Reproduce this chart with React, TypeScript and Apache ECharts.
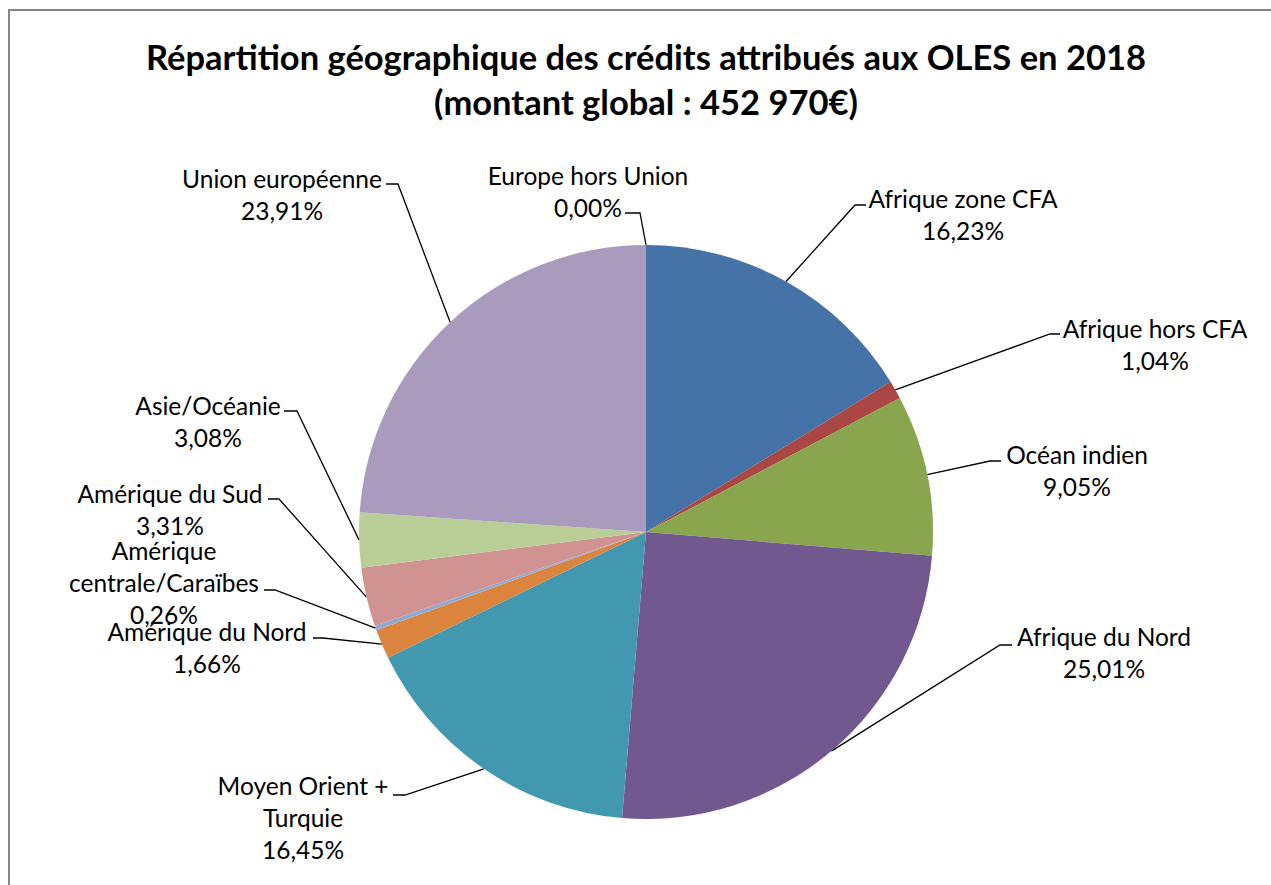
import React, { useEffect, useRef } from 'react';
import * as echarts from 'echarts';

const titleLines = [
  'Répartition géographique des crédits attribués aux OLES en 2018',
  '(montant global : 452 970€)',
];

const categories = [
  'Afrique zone CFA',
  'Afrique hors CFA',
  'Océan indien',
  'Afrique du Nord',
  'Moyen Orient + Turquie',
  'Amérique du Nord',
  'Amérique centrale/Caraïbes',
  'Amérique du Sud',
  'Asie/Océanie',
  'Union européenne',
  'Europe hors Union',
];

const shares = [16.23, 1.04, 9.05, 25.01, 16.45, 1.66, 0.26, 3.31, 3.08, 23.91, 0.0];

const labelTexts = [
  'Afrique zone CFA',
  'Afrique hors CFA',
  'Océan indien',
  'Afrique du Nord',
  'Moyen Orient +\nTurquie',
  'Amérique du Nord',
  'Amérique\ncentrale/Caraïbes',
  'Amérique du Sud',
  'Asie/Océanie',
  'Union européenne',
  'Europe hors Union',
];

const colors = [
  '#4572A7', '#AA4643', '#89A54E', '#71588F', '#4198AF', '#DB843D',
  '#93A9CF', '#D19392', '#B9CD96', '#A99BBD', '#3D6A9E',
];

// Layout of the data labels (text block centre) and leader-line attachment
const labelCenters: number[][] = [
  [963, 214], [1155, 344], [1077, 470], [1104, 652], [303, 817], [207, 647],
  [164, 582], [170, 509], [208, 421], [282, 194], [588, 191],
];
// [x, y, elbow offset]
const leaderAnchors: number[][] = [
  [866, 205, -11], [1060, 334, -10], [1001, 461, -11], [1012, 645, -12],
  [393, 795, 12], [313, 638, 10], [264, 590, 11], [268, 499, 11],
  [284, 411, 13], [386, 184, 12], [625, 213, 15],
];

const CX = 646;
const CY = 532;
const R = 287;
const FONT = 'Lato, "Open Sans", sans-serif';

function fmtPct(v: number) {
  return v.toFixed(2).replace('.', ',') + '%';
}

export default function App() {
  const ref = useRef<HTMLDivElement>(null);

  useEffect(() => {
    if (!ref.current) return;
    const chart = echarts.init(ref.current, null, { renderer: 'svg' });
    const total = shares.reduce((a, b) => a + b, 0);
    const cum: number[] = [];
    shares.reduce((acc, v, i) => {
      cum[i] = acc;
      return acc + v;
    }, 0);

    chart.setOption({
      animation: false,
      backgroundColor: '#ffffff',
      title: {
        text: titleLines.join('\n'),
        left: 646,
        top: 34,
        padding: 0,
        textAlign: 'center',
        textStyle: {
          fontFamily: FONT,
          fontWeight: 'bold',
          fontSize: 34.5,
          lineHeight: 45,
          color: '#000',
        },
      },
      graphic: [
        { type: 'line', shape: { x1: 8, y1: 10, x2: 1271, y2: 10 }, style: { stroke: '#868686', lineWidth: 2 } },
        { type: 'line', shape: { x1: 9, y1: 9, x2: 9, y2: 885 }, style: { stroke: '#868686', lineWidth: 2 } },
      ],
      series: [
        {
          type: 'pie',
          center: [CX, CY],
          radius: R,
          startAngle: 90,
          clockwise: true,
          avoidLabelOverlap: false,
          itemStyle: { borderWidth: 0 },
          emphasis: { disabled: true },
          label: {
            show: true,
            position: 'outside',
            overflow: 'none',
            fontFamily: FONT,
            fontSize: 24.5,
            lineHeight: 32,
            color: '#000',
            align: 'center',
            formatter: (p: any) => labelTexts[p.dataIndex] + '\n' + fmtPct(shares[p.dataIndex]),
          },
          labelLine: {
            show: true,
            length: 10,
            length2: 10,
            lineStyle: { color: '#000', width: 1.3 },
          },
          labelLayout: (params: any) => {
            const i = params.dataIndex;
            const c = labelCenters[i];
            const a = leaderAnchors[i];
            let mid = params.labelLinePoints && params.labelLinePoints[0];
            if (!mid) {
              const ang = ((cum[i] + shares[i] / 2) / total) * Math.PI * 2;
              mid = [CX + R * Math.sin(ang), CY - R * Math.cos(ang)];
            }
            return {
              x: c[0],
              y: c[1],
              align: 'center',
              verticalAlign: 'middle',
              labelLinePoints: [mid, [a[0] + a[2], a[1]], [a[0], a[1]]],
            };
          },
          data: categories.map((name, i) => ({
            name,
            value: shares[i],
            itemStyle: { color: colors[i] },
          })),
        },
      ],
    });
    return () => chart.dispose();
  }, []);

  return (
    <div
      ref={ref}
      style={{ position: 'absolute', left: 0, top: 0, width: 1271, height: 885 }}
    />
  );
}
